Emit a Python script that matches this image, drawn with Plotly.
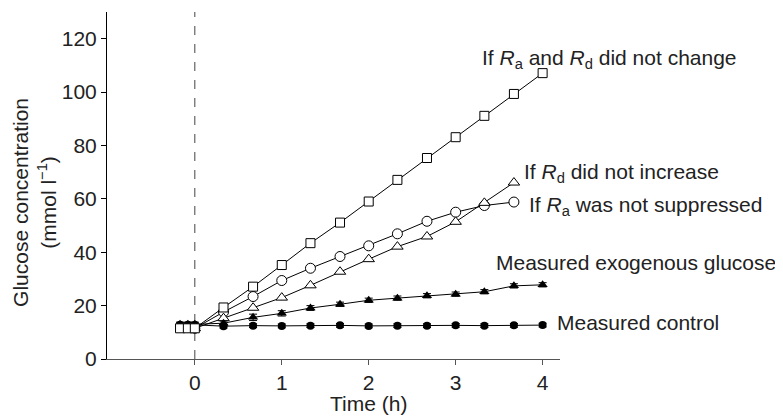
import plotly.graph_objects as go

# ---- data ----
t_full = [-0.17, -0.08, 0, 0.33, 0.67, 1.0, 1.33, 1.67, 2.0, 2.33, 2.67, 3.0, 3.33, 3.67, 4.0]
t_model = [0, 0.33, 0.67, 1.0, 1.33, 1.67, 2.0, 2.33, 2.67, 3.0, 3.33, 3.67]

no_change = [11.5, 11.5, 11.5, 19.3, 27.1, 35.2, 43.4, 51.1, 59.0, 67.1, 75.3, 83.1, 91.1, 99.3, 107.1]
ra_not_suppressed = [11.5, 17.6, 23.4, 29.4, 34.0, 38.4, 42.4, 46.9, 51.6, 55.0, 57.5, 58.8]
rd_not_increase = [11.5, 15.3, 19.2, 23.0, 27.6, 32.7, 37.4, 42.1, 45.9, 51.4, 58.5, 66.1]
exogenous = [13.0, 13.0, 13.0, 13.4, 15.6, 17.1, 19.1, 20.5, 22.0, 22.8, 23.7, 24.3, 25.2, 27.4, 27.8]
exogenous_err = [0.8, 0.8, 0.8, 0.8, 1.2, 1.0, 0.9, 0.8, 0.8, 0.8, 0.8, 0.8, 0.8, 0.8, 0.8]
control = [12.8, 12.8, 12.8, 12.3, 12.5, 12.4, 12.5, 12.6, 12.4, 12.5, 12.5, 12.6, 12.5, 12.6, 12.7]
control_err = [0.7] * 15

x_ticks = [0, 1, 2, 3, 4]
y_ticks = [0, 20, 40, 60, 80, 100, 120]

labels = [
    ("If <i>R</i><sub>a</sub> and <i>R</i><sub>d</sub> did not change", 3.28, 112.5),
    ("If <i>R</i><sub>d</sub> did not increase", 3.76, 69.8),
    ("If <i>R</i><sub>a</sub> was not suppressed", 3.82, 57.3),
    ("Measured exogenous glucose", 3.44, 36.0),
    ("Measured control", 4.14, 13.5),
]

FONT = "Liberation Sans, Arial, Helvetica, sans-serif"
TXT = "#222222"

fig = go.Figure()

line = dict(color="black", width=1)

fig.add_trace(go.Scatter(x=t_model, y=ra_not_suppressed, mode="lines+markers", line=line,
                         marker=dict(symbol="circle", size=10, color="white",
                                     line=dict(color="black", width=1))))
fig.add_trace(go.Scatter(x=t_model, y=rd_not_increase, mode="lines+markers", line=line,
                         marker=dict(symbol="triangle-up", size=10, color="white",
                                     line=dict(color="black", width=1))))
fig.add_trace(go.Scatter(x=t_full, y=control, mode="lines+markers", line=line,
                         error_y=dict(type="data", array=control_err, color="black",
                                      thickness=1, width=4),
                         marker=dict(symbol="circle", size=8, color="black")))
fig.add_trace(go.Scatter(x=t_full, y=exogenous, mode="lines+markers", line=line,
                         error_y=dict(type="data", array=exogenous_err, color="black",
                                      thickness=1, width=4),
                         marker=dict(symbol="triangle-up", size=9, color="black")))
fig.add_trace(go.Scatter(x=t_full, y=no_change, mode="lines+markers", line=line,
                         marker=dict(symbol="square", size=9, color="white",
                                     line=dict(color="black", width=1))))

# dashed vertical line at time zero
fig.add_shape(type="line", x0=0, x1=0, y0=0, y1=130, xref="x", yref="y",
              line=dict(color="#444444", width=1, dash="dash"), layer="below")

for text, x, y in labels:
    fig.add_annotation(x=x, y=y, xref="x", yref="y", text=text, showarrow=False,
                       xanchor="left", yanchor="middle",
                       font=dict(family=FONT, size=21, color=TXT))

# axis titles
fig.add_annotation(x=-0.161, y=58.5, xref="paper", yref="y",
                   text="Glucose concentration<br>(mmol l<sup>−1</sup>)",
                   showarrow=False, textangle=-90, xanchor="center", yanchor="middle",
                   font=dict(family=FONT, size=21, color=TXT))
fig.add_annotation(x=2.0, y=0, xref="x", yref="paper", yshift=-44,
                   text="Time (h)", showarrow=False, xanchor="center", yanchor="middle",
                   font=dict(family=FONT, size=21, color=TXT))

fig.update_layout(
    width=775, height=408,
    margin=dict(l=99, r=223, t=4, b=57),
    paper_bgcolor="white", plot_bgcolor="white",
    showlegend=False,
    font=dict(family=FONT, size=21, color=TXT),
)
fig.update_xaxes(range=[-1.01, 4.2], tickvals=x_ticks, ticks="outside", ticklen=5,
                 tickcolor="#555555", showline=True, linecolor="#555555", linewidth=1,
                 showgrid=False, zeroline=False, tickfont=dict(size=21))
fig.update_yaxes(range=[0, 130], tickvals=y_ticks, ticks="outside", ticklen=5,
                 tickcolor="black", showline=True, linecolor="black", linewidth=1,
                 showgrid=False, zeroline=False, tickfont=dict(size=21))

fig.write_html("out.html")
